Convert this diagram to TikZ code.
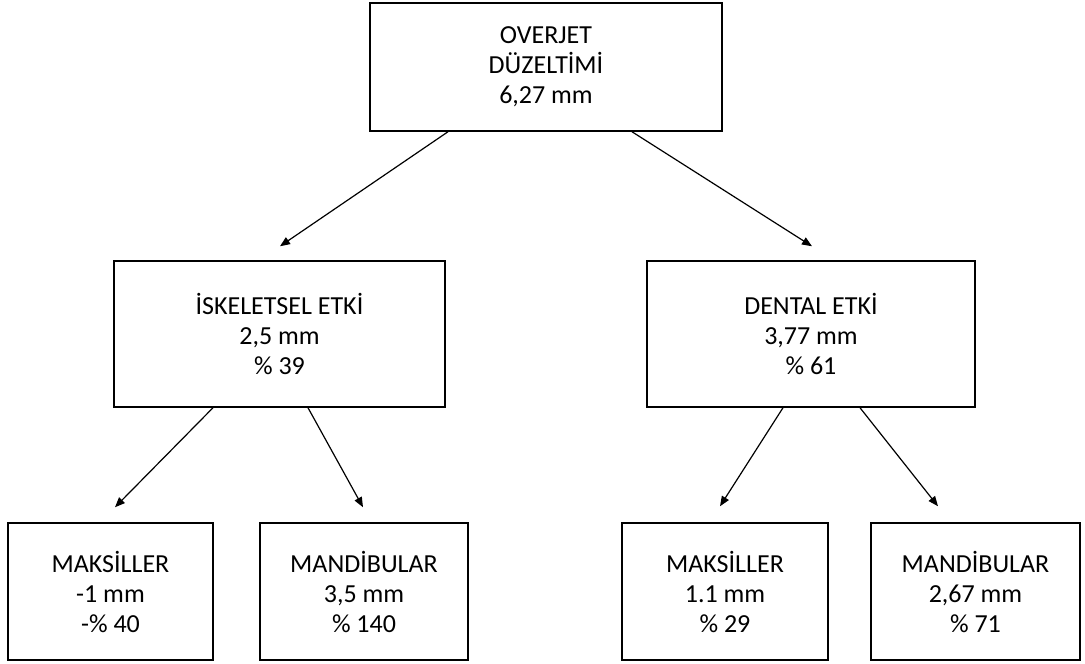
\documentclass[tikz,border=0pt]{standalone}
\usepackage{fontspec}
\setmainfont{Carlito}
\usetikzlibrary{arrows.meta}
\begin{document}
\begin{tikzpicture}[x=1pt,y=-1pt,
  box/.style={draw=black, line width=1.5pt, rectangle, inner sep=0pt, align=center,
    font=\fontsize{26}{30}\selectfont},
  arr/.style={line width=1.2pt, -{Triangle[length=10pt,width=8pt]}}]
\useasboundingbox (0,0) rectangle (1085,664);
\node[box, minimum width=352pt, minimum height=128pt] (top) at (546,67) {OVERJET\\DÜZELTİMİ\\6,27 mm};
\node[box, minimum width=331pt, minimum height=146pt] (ml) at (279.5,334) {İSKELETSEL ETKİ\\2,5 mm\\\% 39};
\node[box, minimum width=328pt, minimum height=146pt] (mr) at (811,334) {DENTAL ETKİ\\3,77 mm\\\% 61};
\node[box, minimum width=205pt, minimum height=137pt] (b1) at (110.5,591.5) {MAKSİLLER\\-1 mm\\-\% 40};
\node[box, minimum width=208pt, minimum height=137pt] (b2) at (364,591.5) {MANDİBULAR\\3,5 mm\\\% 140};
\node[box, minimum width=206pt, minimum height=137pt] (b3) at (725,591.5) {MAKSİLLER\\1.1 mm\\\% 29};
\node[box, minimum width=209pt, minimum height=137pt] (b4) at (975.5,591.5) {MANDİBULAR\\2,67 mm\\\% 71};
\draw[arr] ([xshift=-98pt]top.south) -- ([xshift=0.5pt,yshift=14pt]ml.north);
\draw[arr] ([xshift=86pt]top.south) -- ([xshift=1pt,yshift=14pt]mr.north);
\draw[arr] ([xshift=-66.5pt]ml.south) -- ([xshift=4.5pt,yshift=15pt]b1.north);
\draw[arr] ([xshift=28.5pt]ml.south) -- ([xshift=-1pt,yshift=15pt]b2.north);
\draw[arr] ([xshift=-28pt]mr.south) -- ([xshift=-5pt,yshift=16pt]b3.north);
\draw[arr] ([xshift=49pt]mr.south) -- ([xshift=-37.5pt,yshift=16pt]b4.north);
\end{tikzpicture}
\end{document}
